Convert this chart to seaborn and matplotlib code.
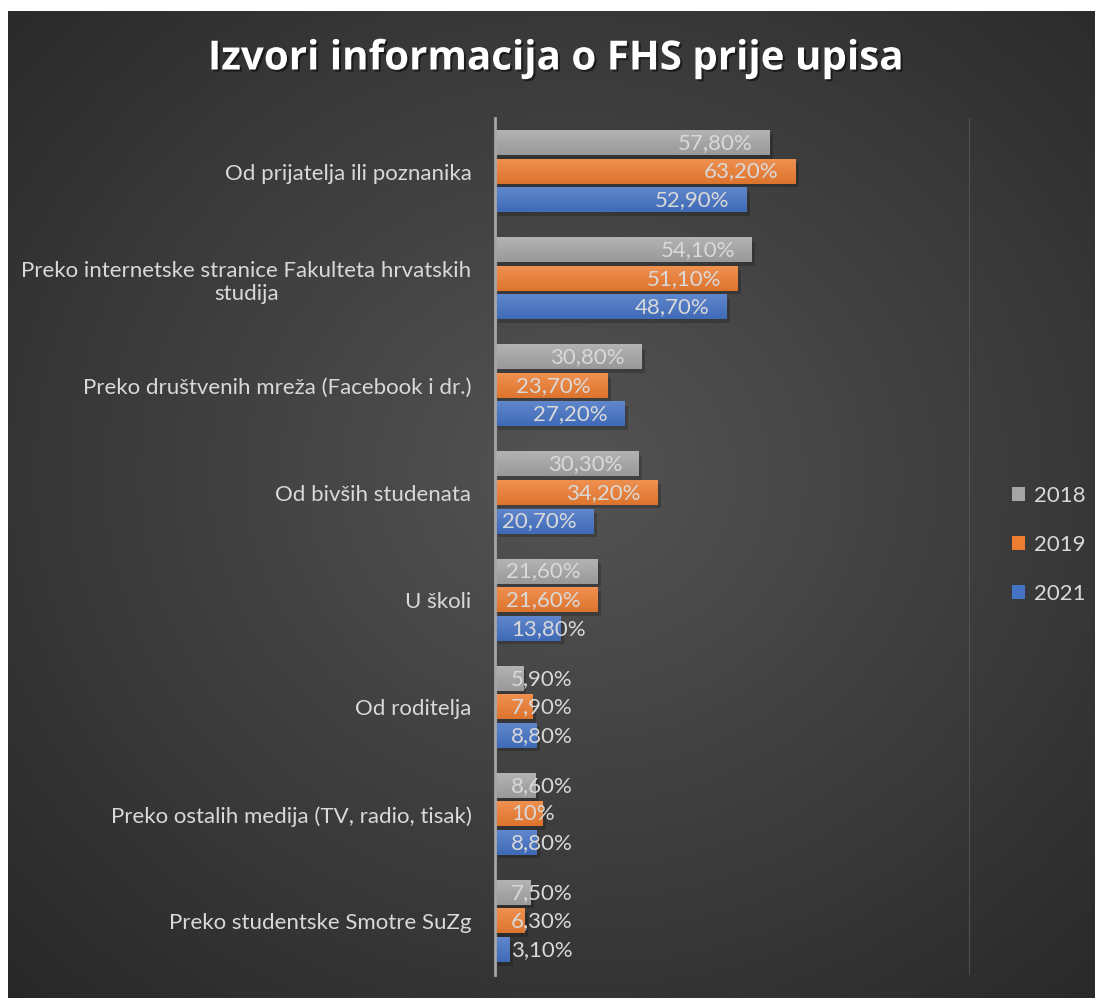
import numpy as np
import pandas as pd
import matplotlib
matplotlib.use("Agg")
import matplotlib.pyplot as plt
import seaborn as sns
from matplotlib import patheffects as pe
from matplotlib.patches import Patch

categories = [
    "Od prijatelja ili poznanika",
    "Preko internetske stranice Fakulteta hrvatskih\nstudija",
    "Preko društvenih mreža (Facebook i dr.)",
    "Od bivših studenata",
    "U školi",
    "Od roditelja",
    "Preko ostalih medija (TV, radio, tisak)",
    "Preko studentske Smotre SuZg",
]
years = ["2018", "2019", "2021"]
v2018 = [57.8, 54.1, 30.8, 30.3, 21.6, 5.9, 8.6, 7.5]
v2019 = [63.2, 51.1, 23.7, 34.2, 21.6, 7.9, 10.0, 6.3]
v2021 = [52.9, 48.7, 27.2, 20.7, 13.8, 8.8, 8.8, 3.1]
title = "Izvori informacija o FHS prije upisa"

colors = {"2018": "#a5a5a5", "2019": "#ed7d31", "2021": "#4472c4"}

def fmt(v):
    if abs(v - round(v)) < 1e-9:
        return f"{int(round(v))}%"
    return f"{v:.2f}".replace(".", ",") + "%"

rows = []
for yr, vals in zip(years, [v2018, v2019, v2021]):
    for c, v in zip(categories, vals):
        rows.append({"cat": c, "year": yr, "val": v})
df = pd.DataFrame(rows)

plt.rcParams["font.family"] = ["Lato", "DejaVu Sans"]

W, H = 1095, 998
fig = plt.figure(figsize=(W / 100, H / 100), dpi=100)
fig.patch.set_facecolor("white")

# background radial gradient
bg = fig.add_axes([8 / W, 0, 1 - 8 / W, 1 - 11 / H])
gy, gx = np.mgrid[0:1:400j, 0:1:440j]
r = np.sqrt(((gx - 0.52) / 0.75) ** 2 + ((gy - 0.47) / 0.75) ** 2)
r = np.clip(r, 0, 1)
inner = np.array([0x54, 0x54, 0x54]) / 255
outer = np.array([0x27, 0x27, 0x27]) / 255
img = inner[None, None, :] * (1 - r[..., None]) + outer[None, None, :] * r[..., None]
bg.imshow(img, aspect="auto", extent=(0, 1, 0, 1), origin="upper")
bg.set_axis_off()

ax = fig.add_axes([495 / W, 1 - 975 / H, (970 - 495) / W, (975 - 118) / H])
ax.patch.set_alpha(0)
sns.barplot(data=df, y="cat", x="val", hue="year", palette=colors,
            orient="h", width=0.8, ax=ax, legend=False, saturation=1)

ax.set_xlim(0, 100)
ylim = (len(categories) - 0.5, -0.5)

bar_h = 0.225
for cont, yr, vals in zip(ax.containers, years, [v2018, v2019, v2021]):
    base = np.array(matplotlib.colors.to_rgb(colors[yr]))
    light = base + (1 - base) * 0.15
    dark = base * 0.93
    for p, v in zip(cont, vals):
        cy = p.get_y() + p.get_height() / 2
        p.set_y(cy - bar_h / 2)
        p.set_height(bar_h)
        p.set_edgecolor("none")
        p.set_path_effects([pe.SimplePatchShadow(offset=(2.5, -2.5), shadow_rgbFace="black", alpha=0.2), pe.Normal()])
        x0, w = p.get_x(), p.get_width()
        t = np.linspace(0, 1, 32)[:, None, None]
        grad = light[None, None, :] * (1 - t) + dark[None, None, :] * t
        ax.imshow(grad, extent=(x0, x0 + w, cy + bar_h / 2, cy - bar_h / 2),
                  aspect="auto", origin="upper", zorder=p.get_zorder() + 0.1, interpolation="bilinear")
        if v >= 15:
            ax.annotate(fmt(v), (v, cy), xytext=(-12, 0), textcoords="offset points",
                        ha="right", va="center", color="#d9d9d9", fontsize=16, zorder=5)
        else:
            ax.annotate(fmt(v), (0, cy), xytext=(11.5, 0), textcoords="offset points",
                        ha="left", va="center", color="#d9d9d9", fontsize=16, zorder=5)

ax.set_xlim(0, 100)
ax.set_ylim(*ylim)
ax.set_xlabel("")
ax.set_ylabel("")
ax.set_xticks([])
for s in ["top", "right", "bottom"]:
    ax.spines[s].set_visible(False)
ax.spines["left"].set_color("#a6a6a6")
ax.spines["left"].set_linewidth(2)
ax.axvline(100, color="#585858", lw=1.2)
ax.tick_params(axis="y", length=0, pad=17, colors="#d9d9d9", labelsize=16)
for lab in ax.get_yticklabels():
    lab.set_multialignment("center")

handles = [Patch(facecolor=colors[y], edgecolor="none") for y in years]
leg = fig.legend(handles, years, loc="center left", bbox_to_anchor=(1012 / W, 1 - 545 / H),
                 frameon=False, fontsize=16, handlelength=0.6, handleheight=0.6,
                 handletextpad=0.4, labelspacing=1.3, labelcolor="#d9d9d9", borderpad=0,
                 borderaxespad=0)

fig.text(555 / W, 1 - 59 / H, title, ha="center", va="center", fontsize=29,
         fontweight="bold", color="white", family=["Open Sans", "DejaVu Sans"],
         path_effects=[pe.withSimplePatchShadow(offset=(1.5, -1.5), shadow_rgbFace="black", alpha=0.5)])

fig.savefig("out.png", dpi=100, facecolor=fig.get_facecolor())
